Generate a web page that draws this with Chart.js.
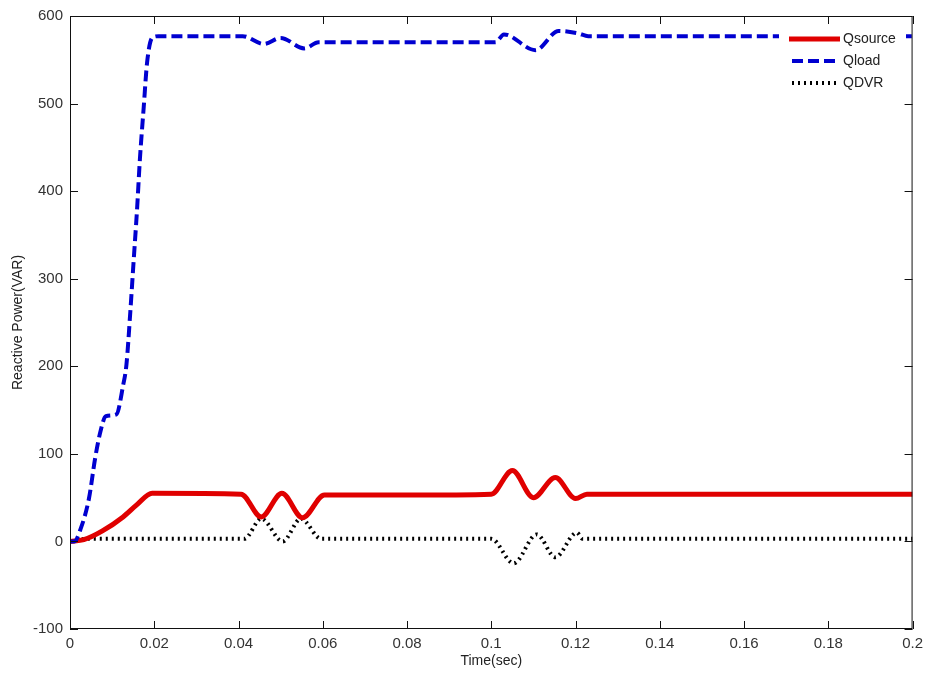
<!DOCTYPE html>
<html>
<head>
<meta charset="utf-8">
<script src="https://cdn.jsdelivr.net/npm/chart.js@4.4.1/dist/chart.umd.min.js"></script>
<style>
  html, body { margin: 0; padding: 0; background: #fff; }
  canvas { display: block; }
</style>
</head>
<body>
<canvas id="qChart" width="929" height="678"></canvas>
<script>
// values
const qloadTime = [0, 0.001, 0.0025, 0.0045, 0.006, 0.0073, 0.0085, 0.011, 0.0126, 0.0134, 0.0143, 0.0151, 0.0159, 0.0166, 0.0175, 0.0183, 0.0195, 0.021, 0.041, 0.046, 0.050, 0.0556, 0.059, 0.07, 0.08, 0.09, 0.101, 0.103, 0.1105, 0.116, 0.1207, 0.123, 0.14, 0.16, 0.18, 0.2];
const qloadValues = [0, 0, 14, 49, 96, 127, 143, 145, 178, 202, 261, 320, 378, 437, 496, 547, 575, 577, 577, 568, 575, 563, 570, 570, 570, 570, 570, 579, 561, 583, 580, 577, 577, 577, 577, 577];

const qsourceTime = [0, 0.0033, 0.0077, 0.0126, 0.0159, 0.0195, 0.0406, 0.0454, 0.0503, 0.0552, 0.0604, 0.08, 0.1, 0.105, 0.110, 0.1152, 0.12, 0.1227, 0.2];
const qsourceValues = [0, 2, 12, 28, 42, 55, 54, 28, 55, 27, 53, 53, 54, 81, 50, 73, 49, 54, 54];

const qdvrTime = [0, 0.004, 0.0414, 0.0454, 0.0505, 0.0548, 0.0596, 0.1, 0.1053, 0.1108, 0.1152, 0.1203, 0.1217, 0.2];
const qdvrValues = [0, 3, 3, 26, 0, 26, 3, 3, -25, 8, -18, 10, 3, 3];

const seriesLabels = ['Qsource', 'Qload', 'QDVR'];
const xTicks = [0, 0.02, 0.04, 0.06, 0.08, 0.1, 0.12, 0.14, 0.16, 0.18, 0.2];
const yTicks = [-100, 0, 100, 200, 300, 400, 500, 600];

const toPoints = (t, v) => t.map((x, i) => ({ x: x, y: v[i] }));

// matlab style box, inward ticks and legend
const matlabFrame = {
    id: 'matlabFrame',
    afterDatasetsDraw(chart) {
        const ctx = chart.ctx;
        const a = chart.chartArea;
        const xs = chart.scales.x;
        const ys = chart.scales.y;
        const tl = 8;

        // legend
        const lx = 779, ly = 24;
        ctx.save();
        ctx.fillStyle = '#fff';
        ctx.fillRect(lx, ly, 127, 72);
        const rows = [
            { label: seriesLabels[0], color: '#e00000', width: 5, dash: [] },
            { label: seriesLabels[1], color: '#0000d0', width: 4, dash: [11, 5] },
            { label: seriesLabels[2], color: '#000', width: 4, dash: [2, 4] }
        ];
        ctx.font = '14px "Liberation Sans", Arial, sans-serif';
        ctx.textBaseline = 'middle';
        rows.forEach((r, i) => {
            const yy = ly + 15 + i * 22;
            ctx.beginPath();
            ctx.setLineDash(r.dash);
            ctx.strokeStyle = r.color;
            ctx.lineWidth = r.width;
            ctx.moveTo(i === 0 ? 789 : 792, yy);
            ctx.lineTo(840, yy);
            ctx.stroke();
            ctx.setLineDash([]);
            ctx.fillStyle = '#222';
            ctx.fillText(r.label, 843, yy);
        });

        // box
        ctx.strokeStyle = '#111';
        ctx.lineWidth = 1;
        ctx.strokeRect(a.left + 0.5, a.top + 0.5, a.right - a.left - 1, a.bottom - a.top - 1);

        // ticks inward on all four sides
        ctx.beginPath();
        xTicks.forEach(v => {
            const px = Math.round(xs.getPixelForValue(v)) + 0.5;
            ctx.moveTo(px, a.bottom);
            ctx.lineTo(px, a.bottom - tl);
            ctx.moveTo(px, a.top);
            ctx.lineTo(px, a.top + tl);
        });
        yTicks.forEach(v => {
            const py = Math.round(ys.getPixelForValue(v)) + 0.5;
            ctx.moveTo(a.left, py);
            ctx.lineTo(a.left + tl, py);
            ctx.moveTo(a.right, py);
            ctx.lineTo(a.right - tl, py);
        });
        ctx.stroke();
        ctx.restore();
    }
};

const ctx = document.getElementById('qChart').getContext('2d');
new Chart(ctx, {
    type: 'line',
    data: {
        datasets: [
            {
                label: seriesLabels[1],
                data: toPoints(qloadTime, qloadValues),
                borderColor: '#0000d0',
                borderWidth: 4,
                borderDash: [11, 5],
                cubicInterpolationMode: 'monotone'
            },
            {
                label: seriesLabels[0],
                data: toPoints(qsourceTime, qsourceValues),
                borderColor: '#e00000',
                borderWidth: 5,
                cubicInterpolationMode: 'monotone'
            },
            {
                label: seriesLabels[2],
                data: toPoints(qdvrTime, qdvrValues),
                borderColor: '#000',
                borderWidth: 4,
                borderDash: [2, 4],
                cubicInterpolationMode: 'monotone'
            }
        ]
    },
    options: {
        responsive: false,
        animation: false,
        layout: { padding: { left: 0, top: 15, right: 14, bottom: 0 } },
        elements: { point: { radius: 0 } },
        plugins: {
            legend: { display: false },
            tooltip: { enabled: false }
        },
        scales: {
            x: {
                type: 'linear',
                min: 0,
                max: 0.2,
                afterFit: s => { s.height = 49; },
                afterBuildTicks: s => { s.ticks = xTicks.map(v => ({ value: v })); },
                grid: { display: false, drawTicks: false },
                border: { display: false },
                ticks: {
                    padding: 6,
                    color: '#333',
                    font: { family: '"Liberation Sans", Arial, sans-serif', size: 15 },
                    maxRotation: 0,
                    callback: v => String(parseFloat(v.toFixed(2)))
                },
                title: {
                    display: true,
                    text: 'Time(sec)',
                    color: '#222',
                    padding: { top: 8, bottom: 8 },
                    font: { family: '"Liberation Sans", Arial, sans-serif', size: 14 }
                }
            },
            y: {
                min: -100,
                max: 600,
                afterFit: s => { s.width = 70; },
                afterBuildTicks: s => { s.ticks = yTicks.map(v => ({ value: v })); },
                grid: { display: false, drawTicks: false },
                border: { display: false },
                ticks: {
                    padding: 7,
                    color: '#333',
                    font: { family: '"Liberation Sans", Arial, sans-serif', size: 15 }
                },
                title: {
                    display: true,
                    text: 'Reactive Power(VAR)',
                    color: '#222',
                    padding: { top: 10, bottom: 10 },
                    font: { family: '"Liberation Sans", Arial, sans-serif', size: 14 }
                }
            }
        }
    },
    plugins: [matlabFrame]
});
</script>
</body>
</html>
